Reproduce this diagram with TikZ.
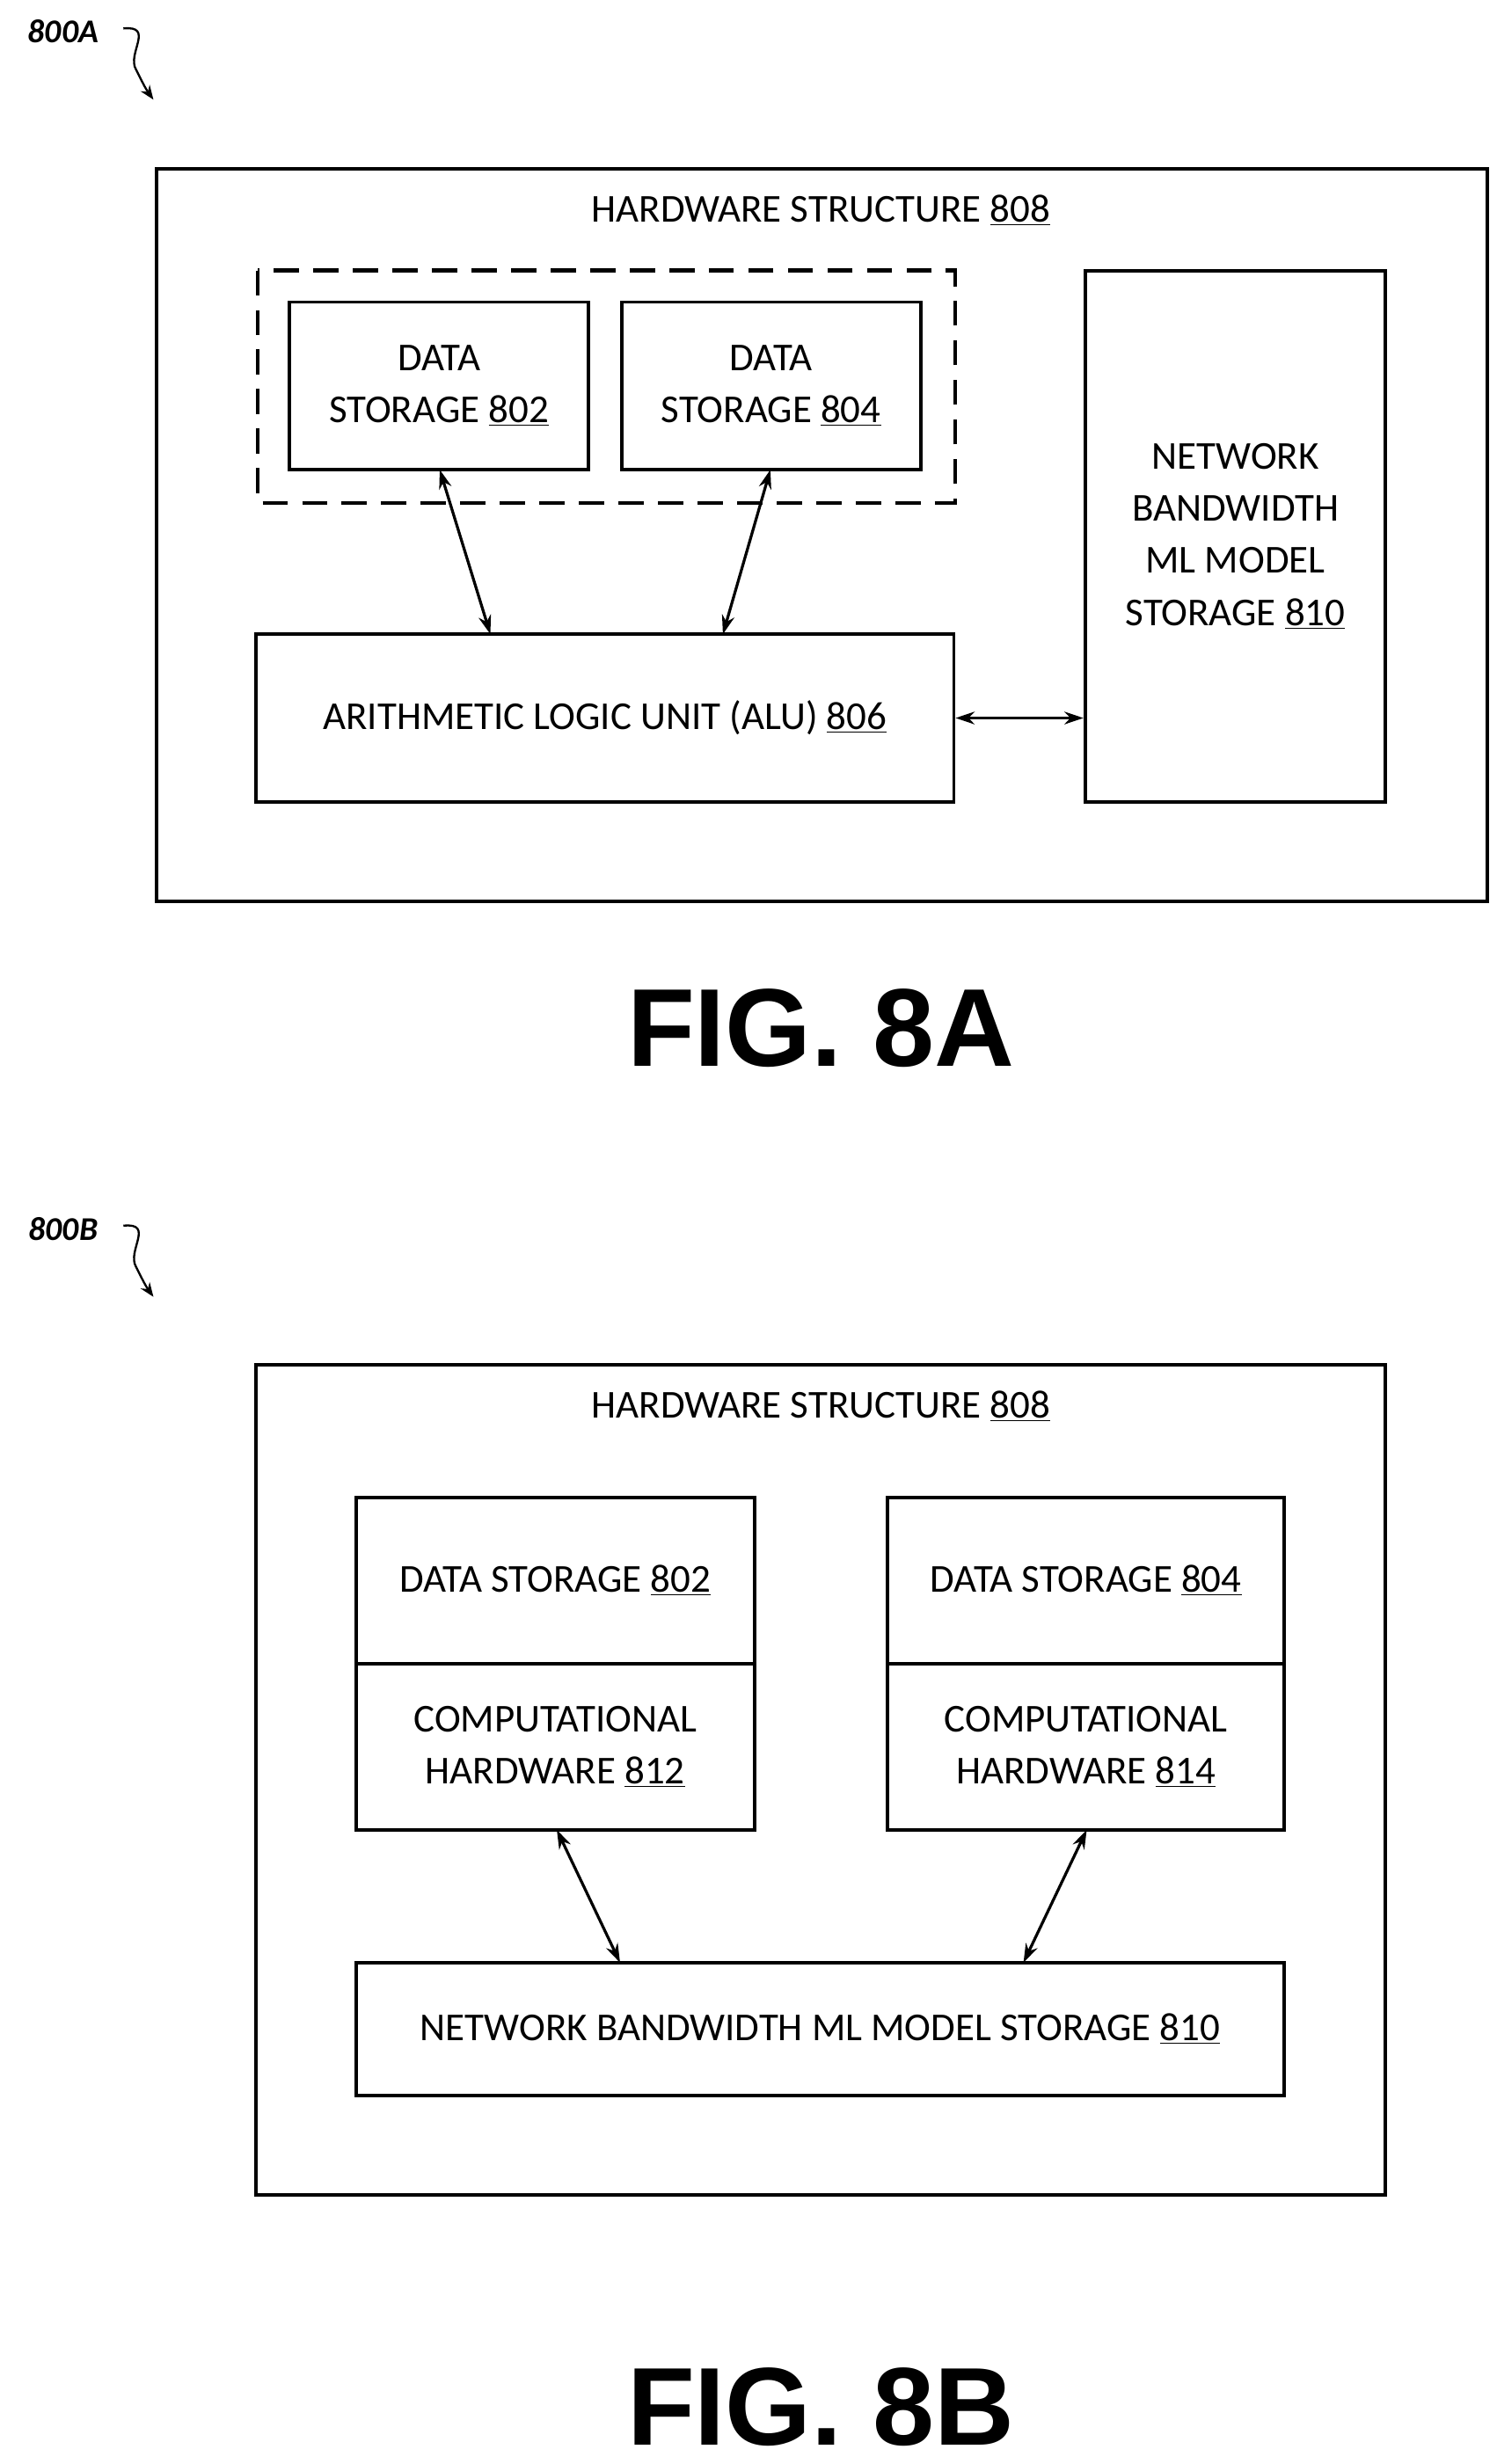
\documentclass[tikz,border=0pt]{standalone}
\usepackage{fontspec}
\setmainfont{Carlito}
\newfontfamily\figfont{Liberation Sans}
\usetikzlibrary{arrows.meta}
\begin{document}
\begin{tikzpicture}[x=1pt,y=-1pt,
  box/.style={draw,line width=2.2pt,inner sep=0pt},
  lbl/.style={font=\fontsize{25}{33}\selectfont,align=center},
  dbl/.style={{Stealth[length=12pt,width=8pt]}-{Stealth[length=12pt,width=8pt]},line width=1.8pt},
  fig/.style={font=\figfont\bfseries\fontsize{70}{78}\selectfont},
  ref/.style={font=\itshape\bfseries\fontsize{21}{24}\selectfont},
  sq/.style={-{Stealth[length=9pt,width=7pt]},line width=1.3pt}]
\useasboundingbox (0,0) rectangle (946,1558);
% ---------- 8A ----------
\node[ref] (rA) at (40,20) {800A};
\coordinate (sA1) at (78,18); \coordinate (sA2) at (97,63);
\draw[sq] (sA1) .. controls (98,16) and (80,34) .. (86,44) .. controls (90,52) and (92,56) .. (sA2);
\draw[box] (99,107) rectangle (940,570);
\node[lbl] (tA) at (519,133) {HARDWARE STRUCTURE \underline{808}};
\draw[line width=2.4pt,dash pattern=on 16pt off 9pt] (163,171) rectangle (604,318);
\node[box,lbl,minimum width=189pt,minimum height=106pt] (d802) at (277.5,244) {DATA\\STORAGE \underline{802}};
\node[box,lbl,minimum width=189pt,minimum height=106pt] (d804) at (487.5,244) {DATA\\STORAGE \underline{804}};
\node[box,lbl,minimum width=190pt,minimum height=336pt] (nb) at (781,339) {NETWORK\\BANDWIDTH\\ML MODEL\\STORAGE \underline{810}};
\node[box,lbl,minimum width=441pt,minimum height=106pt] (alu) at (382.5,454) {ARITHMETIC LOGIC UNIT (ALU) \underline{806}};
\draw[dbl] (278,297) -- (310,401);
\draw[dbl] (487,297) -- (457,401);
\draw[dbl] (alu.east) -- (alu.east -| nb.west);
\node[fig] (fA) at (519,650) {FIG. 8A};
% ---------- 8B ----------
\node[ref] (rB) at (40,777) {800B};
\coordinate (sB1) at (78,775); \coordinate (sB2) at (97,820);
\draw[sq] (sB1) .. controls (98,773) and (80,791) .. (86,801) .. controls (90,809) and (92,813) .. (sB2);
\draw[box] (162,863) rectangle (876,1388);
\node[lbl] (tB) at (519,889) {HARDWARE STRUCTURE \underline{808}};
\node[box,lbl,minimum width=252pt,minimum height=105pt] (l1) at (351,999.5) {DATA STORAGE \underline{802}};
\node[box,lbl,minimum width=252pt,minimum height=105pt] (l2) at (351,1104.5) {COMPUTATIONAL\\HARDWARE \underline{812}};
\node[box,lbl,minimum width=251pt,minimum height=105pt] (r1) at (686.5,999.5) {DATA STORAGE \underline{804}};
\node[box,lbl,minimum width=251pt,minimum height=105pt] (r2) at (686.5,1104.5) {COMPUTATIONAL\\HARDWARE \underline{814}};
\node[box,lbl,minimum width=587pt,minimum height=84pt] (nbB) at (518.5,1283) {NETWORK BANDWIDTH ML MODEL STORAGE \underline{810}};
\draw[dbl] (352,1157) -- (392,1241);
\draw[dbl] (687,1157) -- (647,1241);
\node[fig] (fB) at (519,1522) {FIG. 8B};
\end{tikzpicture}
\end{document}
